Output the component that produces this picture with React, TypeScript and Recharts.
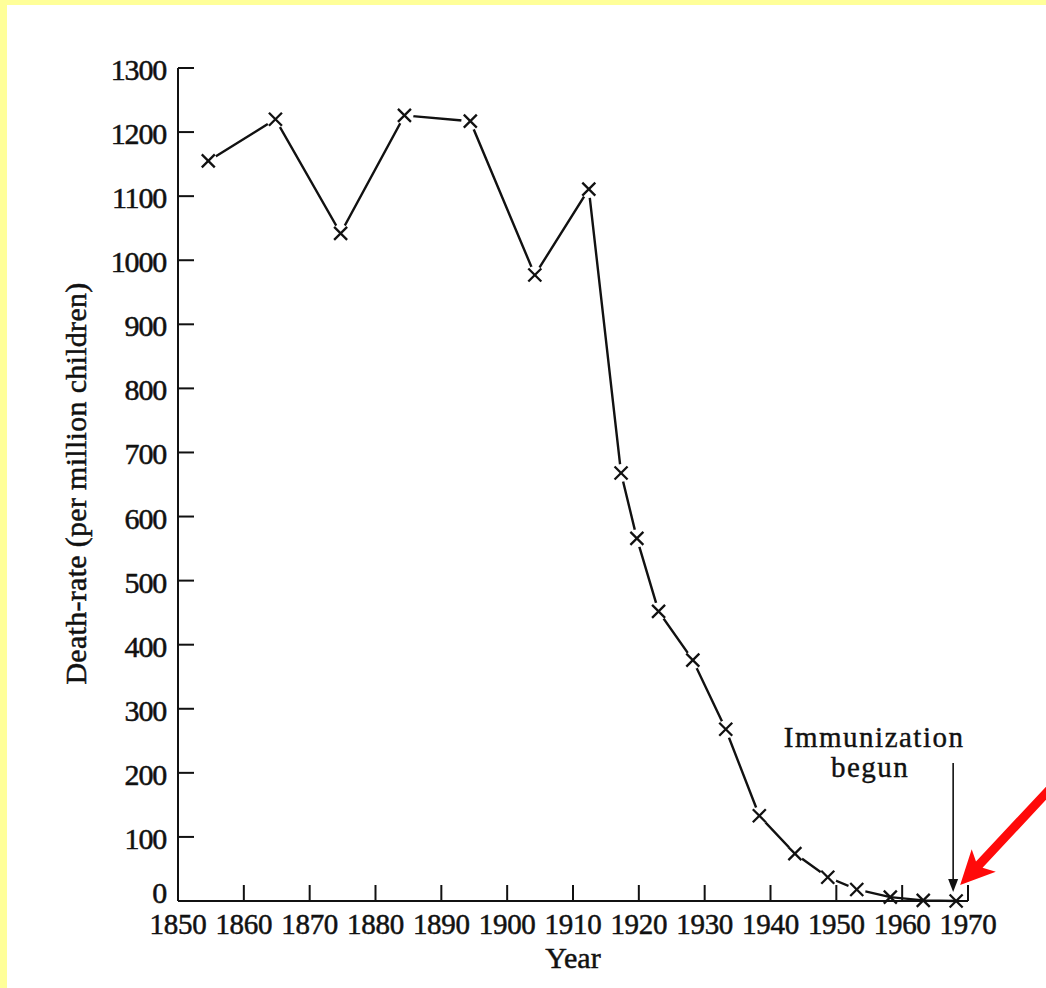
import React from "react";
import {
  LineChart,
  Line,
  XAxis,
  YAxis,
  ReferenceDot,
} from "recharts";

const years = [
  1854.6, 1864.8, 1874.7, 1884.4, 1894.4, 1904.2, 1912.4, 1917.3, 1919.7,
  1923.0, 1928.2, 1933.2, 1938.3, 1943.7, 1948.7, 1953.1, 1958.2, 1963.2,
  1968.2,
];
const deathRate = [
  1155, 1220, 1042, 1226, 1217, 977, 1111, 668, 566, 452, 376, 268, 133, 74,
  37, 18, 6, 1, 0,
];
const yearTicks = [
  1850, 1860, 1870, 1880, 1890, 1900, 1910, 1920, 1930, 1940, 1950, 1960, 1970,
];
const rateTicks = [
  0, 100, 200, 300, 400, 500, 600, 700, 800, 900, 1000, 1100, 1200, 1300,
];
const immunizationYear = 1968.2;
const immunizationLines = ["Immunization", "begun"];

const data = years.map((year, i) => ({ year, rate: deathRate[i] }));

const INK = "#111";
const FONT = "'Liberation Serif', 'Times New Roman', serif";

function XTick({ x, y, payload }: any) {
  return (
    <g>
      <line x1={x} x2={x} y1={y} y2={y - 16} stroke={INK} strokeWidth={2} />
      <text
        x={x}
        y={y + 33}
        textAnchor="middle"
        fontFamily={FONT}
        fontSize={29}
        letterSpacing={-0.3}
        fill={INK}
        stroke={INK}
        strokeWidth={0.5}
      >
        {payload.value}
      </text>
    </g>
  );
}

function YTick({ x, y, payload }: any) {
  const base = payload.value === 0 ? y + 2 : y + 12;
  return (
    <g>
      <line x1={x} x2={x + 16} y1={y} y2={y} stroke={INK} strokeWidth={2} />
      <text
        x={x - 12}
        y={base}
        textAnchor="end"
        fontFamily={FONT}
        fontSize={30}
        letterSpacing={-1.2}
        fill={INK}
        stroke={INK}
        strokeWidth={0.5}
      >
        {payload.value}
      </text>
    </g>
  );
}

function CrossDot(props: any) {
  const { cx, cy, index, payload } = props;
  const s = 6.5;
  return (
    <g key={`dot-${index}`}>
      {payload.rate > 12 && <circle cx={cx} cy={cy} r={9} fill="#fff" />}
      <line x1={cx - s} y1={cy - s} x2={cx + s} y2={cy + s} stroke={INK} strokeWidth={2.3} />
      <line x1={cx - s} y1={cy + s} x2={cx + s} y2={cy - s} stroke={INK} strokeWidth={2.3} />
    </g>
  );
}

function ImmunizationNote({ cx, cy }: any) {
  const ax = cx - 3;
  // red pointer, running up-right off the page
  const tipX = cx + 4;
  const tipY = cy - 16;
  const ux = 0.683;
  const uy = -0.73;
  const px = 0.73;
  const py = 0.683;
  const pt = (along: number, side: number) =>
    `${tipX + ux * along + px * side},${tipY + uy * along + py * side}`;
  const red = [
    pt(0, 0),
    pt(34, -16),
    pt(28, -4.5),
    pt(220, -4.5),
    pt(220, 4.5),
    pt(28, 4.5),
    pt(34, 17),
  ].join(" ");
  return (
    <g>
      <line x1={ax} x2={ax} y1={cy - 138} y2={cy - 20} stroke={INK} strokeWidth={1.6} />
      <polygon
        points={`${ax - 5},${cy - 22} ${ax + 5},${cy - 22} ${ax},${cy - 9}`}
        fill={INK}
      />
      <text
        x={cx - 82}
        y={cy - 154}
        textAnchor="middle"
        fontFamily={FONT}
        fontSize={29}
        letterSpacing={1.5}
        fill={INK}
        stroke={INK}
        strokeWidth={0.4}
      >
        {immunizationLines[0]}
      </text>
      <text
        x={cx - 86}
        y={cy - 124}
        textAnchor="middle"
        fontFamily={FONT}
        fontSize={29}
        letterSpacing={1.5}
        fill={INK}
        stroke={INK}
        strokeWidth={0.4}
      >
        {immunizationLines[1]}
      </text>
      <polygon points={red} fill="#ff0a0a" />
    </g>
  );
}

export default function App() {
  return (
    <div
      style={{
        position: "absolute",
        left: 0,
        top: 0,
        width: 1046,
        height: 988,
        background: "#ffff99",
        overflow: "hidden",
      }}
    >
      <div
        style={{
          position: "absolute",
          left: 7,
          top: 5,
          right: 0,
          bottom: 0,
          background: "#ffffff",
        }}
      />
      <div style={{ position: "absolute", left: 0, top: 0 }}>
        <LineChart
          width={1046}
          height={988}
          data={data}
          margin={{ top: 68, right: 78, bottom: 27, left: 78 }}
        >
          <XAxis
            dataKey="year"
            type="number"
            domain={[1850, 1970]}
            ticks={yearTicks}
            interval={0}
            tickSize={0}
            tickMargin={0}
            tickLine={false}
            tick={XTick}
            height={60}
            axisLine={{ stroke: INK, strokeWidth: 2 }}
            label={{
              content: ({ viewBox }: any) => (
                <text
                  x={viewBox.x + viewBox.width / 2}
                  y={viewBox.y + 67}
                  textAnchor="middle"
                  fontFamily={FONT}
                  fontSize={30}
                  fill={INK}
                  stroke={INK}
                  strokeWidth={0.5}
                >
                  Year
                </text>
              ),
            }}
          />
          <YAxis
            type="number"
            domain={[0, 1300]}
            ticks={rateTicks}
            interval={0}
            tickSize={0}
            tickMargin={0}
            tickLine={false}
            tick={YTick}
            width={100}
            axisLine={{ stroke: INK, strokeWidth: 2 }}
            label={{
              content: ({ viewBox }: any) => {
                const lx = viewBox.x + 8;
                const ly = viewBox.y + viewBox.height / 2 - 1;
                return (
                  <text
                    x={lx}
                    y={ly}
                    transform={`rotate(-90, ${lx}, ${ly})`}
                    textAnchor="middle"
                    fontFamily={FONT}
                    fontSize={30}
                    letterSpacing={0.3}
                    fill={INK}
                    stroke={INK}
                    strokeWidth={0.5}
                  >
                    Death-rate (per million children)
                  </text>
                );
              },
            }}
          />
          <Line
            type="linear"
            dataKey="rate"
            stroke={INK}
            strokeWidth={2.4}
            dot={CrossDot}
            activeDot={false}
            isAnimationActive={false}
          />
          <ReferenceDot
            x={immunizationYear}
            y={0}
            r={0}
            shape={ImmunizationNote}
          />
        </LineChart>
      </div>
    </div>
  );
}
